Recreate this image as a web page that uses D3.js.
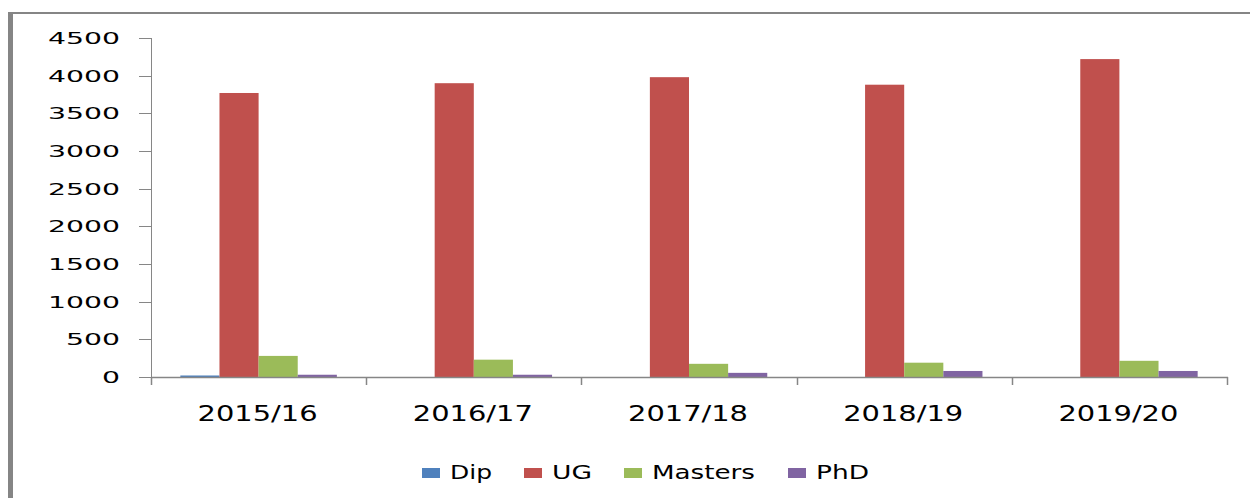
<!DOCTYPE html>
<html>
<head>
<meta charset="utf-8">
<script src="https://cdn.jsdelivr.net/npm/d3@7"></script>
<style>
  html, body { margin: 0; padding: 0; background: #fff; }
  svg { display: block; }
  text { font-family: "DejaVu Sans", sans-serif; fill: #000; }
</style>
</head>
<body>
<script>
const categories = ["2015/16", "2016/17", "2017/18", "2018/19", "2019/20"];
const seriesNames = ["Dip", "UG", "Masters", "PhD"];
const dipValues = [20, 0, 0, 0, 0];
const ugValues = [3770, 3900, 3980, 3880, 4220];
const mastersValues = [280, 230, 175, 190, 215];
const phdValues = [30, 30, 55, 80, 80];
const yTicks = [0, 500, 1000, 1500, 2000, 2500, 3000, 3500, 4000, 4500];
const colors = ["#4F81BD", "#C0504D", "#9BBB59", "#8064A2"];

const seriesValues = [dipValues, ugValues, mastersValues, phdValues];

const W = 1250, H = 498;
const svg = d3.select("body").append("svg").attr("width", W).attr("height", H);

// outer frame
svg.append("line").attr("x1", 10.5).attr("x2", 10.5).attr("y1", 12).attr("y2", H + 5)
  .attr("stroke", "#858585").attr("stroke-width", 5);
svg.append("line").attr("x1", 8).attr("x2", W + 5).attr("y1", 13).attr("y2", 13)
  .attr("stroke", "#858585").attr("stroke-width", 2);

const x0 = d3.scaleBand().domain(categories).range([151, 1227]).paddingInner(0).paddingOuter(0);
const x1 = d3.scaleBand().domain(seriesNames).range([0, x0.bandwidth()]).paddingInner(0).paddingOuter(0.75);
const y = d3.scaleLinear().domain([0, 4500]).range([377, 38]);

// bars
const g = svg.append("g");
categories.forEach((c, ci) => {
  seriesNames.forEach((s, si) => {
    const v = seriesValues[si][ci];
    if (v <= 0) return;
    g.append("rect")
      .attr("x", x0(c) + x1(s))
      .attr("y", y(v))
      .attr("width", x1.bandwidth())
      .attr("height", y(0) - y(v))
      .attr("fill", colors[si]);
  });
});

// y axis
const axisColor = "#868686";
svg.append("line").attr("x1", 151.5).attr("x2", 151.5).attr("y1", y(4500)).attr("y2", 384)
  .attr("stroke", axisColor).attr("stroke-width", 1);
yTicks.forEach(t => {
  const yy = Math.round(y(t)) + 0.5;
  svg.append("line").attr("x1", 139).attr("x2", 151).attr("y1", yy).attr("y2", yy)
    .attr("stroke", axisColor).attr("stroke-width", 1);
  const label = String(t);
  svg.append("text")
    .attr("x", 120).attr("y", y(t) + 6)
    .attr("text-anchor", "end")
    .attr("font-size", 16.5)
    .attr("textLength", label.length * 18)
    .attr("lengthAdjust", "spacingAndGlyphs")
    .text(label);
});

// x axis
svg.append("line").attr("x1", 151).attr("x2", 1228).attr("y1", 377.5).attr("y2", 377.5)
  .attr("stroke", axisColor).attr("stroke-width", 1.5);
const bounds = categories.map(c => x0(c)).concat([x0.range()[1]]);
bounds.forEach(b => {
  const xx = Math.round(b) + 0.5;
  svg.append("line").attr("x1", xx).attr("x2", xx).attr("y1", 377).attr("y2", 385)
    .attr("stroke", axisColor).attr("stroke-width", 1.5);
});
categories.forEach(c => {
  svg.append("text")
    .attr("x", x0(c) + x0.bandwidth() / 2 - 1)
    .attr("y", 421)
    .attr("text-anchor", "middle")
    .attr("font-size", 21.5)
    .attr("textLength", 120)
    .attr("lengthAdjust", "spacingAndGlyphs")
    .text(c);
});

// legend
const legendX = [422, 524, 624, 788];
const legendLen = [42, 40, 103, 53];
seriesNames.forEach((s, i) => {
  svg.append("rect").attr("x", legendX[i]).attr("y", 468).attr("width", 18).attr("height", 10)
    .attr("fill", colors[i]);
  svg.append("text")
    .attr("x", legendX[i] + 28).attr("y", 479)
    .attr("font-size", 19)
    .attr("textLength", legendLen[i])
    .attr("lengthAdjust", "spacingAndGlyphs")
    .text(s);
});
</script>
</body>
</html>
